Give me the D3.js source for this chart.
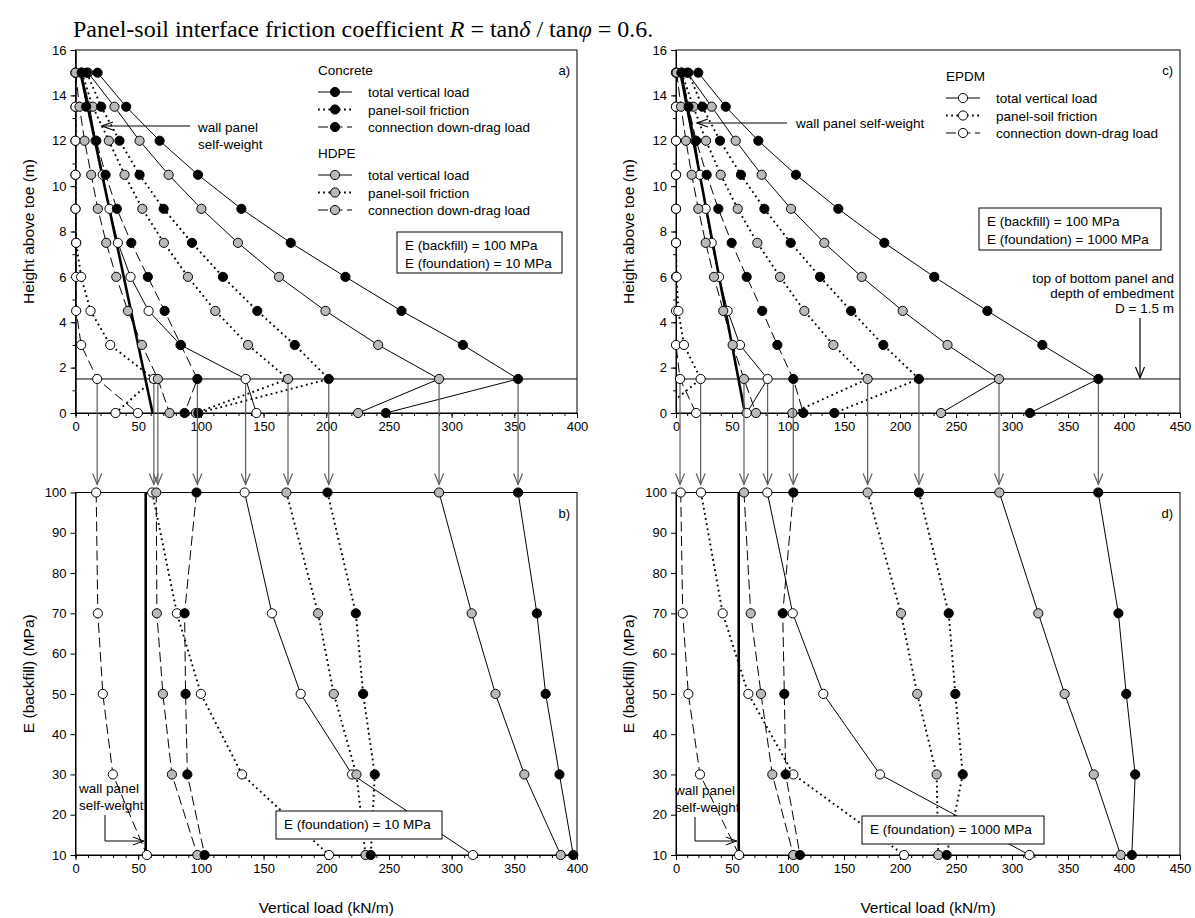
<!DOCTYPE html>
<html>
<head>
<meta charset="utf-8">
<script src="https://cdn.jsdelivr.net/npm/d3@7"></script>
<style>
  body { margin: 0; background: #fff; }
  text { font-family: Arial, "Liberation Sans", sans-serif; fill: #000; }
  text.title { font-family: "Liberation Serif", "Times New Roman", serif; }
</style>
</head>
<body>
<script>
// heights of the data rows in the top panels (m) and backfill moduli in the bottom panels (MPa)
const heights = [15, 13.5, 12, 10.5, 9, 7.5, 6, 4.5, 3, 1.5, 0];
const eBackfill = [100, 70, 50, 30, 10];

// panel a) E(backfill)=100, E(foundation)=10
const aConcTotal = [17.6, 40.4, 67.1, 97.7, 132.3, 171.7, 215.3, 260, 309, 353, 247.5];
const aConcFric  = [9, 20.5, 35.1, 51.1, 70.3, 92.9, 117.6, 145, 174.9, 202, 98];
const aConcConn  = [5, 8.5, 16.6, 24, 33, 44.5, 57.7, 71.1, 84, 97.2, 87];
const aHdpeTotal = [10, 31.1, 51.1, 74.3, 100.4, 129.6, 162.3, 199.4, 241.4, 290, 225.4];
const aHdpeFric  = [5, 13.8, 26.6, 39.1, 53.3, 70.5, 89.7, 111.5, 137.6, 169.5, 96];
const aHdpeConn  = [0, 3.2, 7.2, 12.5, 17.8, 24.5, 32.5, 41.8, 53, 65.7, 75];
const aEpdmTotal = [4.5, 11.2, 16, 21.8, 27.1, 33.8, 43.9, 58.3, 83.8, 135.7, 144.3];
const aEpdmFric  = [0, 0, 0, 0, 0, 0.5, 4.5, 12, 27.7, 62.5, 31.9];
const aEpdmConn  = [0, 0, 0, 0, 0, 0.5, 0.5, 0.5, 4.5, 17.3, 49.7];

// panel b) E(foundation)=10, values at the top of the bottom panel
const bConcTotal = [353, 368, 375, 386, 397];
const bConcFric  = [201, 223.6, 229.4, 238.7, 235.5];
const bConcConn  = [96.5, 87, 87.8, 89.2, 103];
const bHdpeTotal = [290, 316, 335, 358, 387];
const bHdpeFric  = [168.2, 193.5, 206, 224.1, 231.3];
const bHdpeConn  = [64.4, 64.9, 69.7, 76.9, 97.2];
const bEpdmTotal = [134.9, 156.7, 179.6, 220.6, 317];
const bEpdmFric  = [61.2, 80.9, 100, 132.8, 202.2];
const bEpdmConn  = [16.5, 17.8, 21.8, 29.8, 56.9];

// panel c) E(backfill)=100, E(foundation)=1000
const cConcTotal = [19.9, 44.4, 73.5, 107.1, 144.9, 186, 230.6, 278, 327.1, 377.1, 316];
const cConcFric  = [11, 23.5, 39.3, 58, 78.9, 102.4, 128.6, 156.3, 185.1, 216.9, 141.4];
const cConcConn  = [5, 11.2, 18, 27.4, 37.8, 49.7, 63.1, 77, 90.5, 104.7, 113.7];
const cHdpeTotal = [10, 31.9, 53.3, 76.5, 102.7, 132.4, 165.8, 202.4, 242.4, 288.4, 236.6];
const cHdpeFric  = [5, 15.5, 26.8, 39.9, 55.1, 72.6, 92.9, 114.6, 140.5, 171.1, 103.9];
const cHdpeConn  = [0.6, 4.5, 8.9, 14, 19.9, 26.5, 33.9, 42.2, 50.6, 60.7, 71.4];
const cEpdmTotal = [5.1, 11, 17, 21.4, 26.5, 31.9, 38.4, 46.1, 57.1, 81.8, 63.1];
const cEpdmFric  = [0, 0, 0, 0, 0, 0, 0.5, 2.1, 7.1, 22, -15];
const cEpdmConn  = [0, 0, 0, 0, 0, 0, 0, 0, 0, 3.6, 17.9];

// panel d) E(foundation)=1000
const dConcTotal = [377, 395, 402, 410, 407];
const dConcFric  = [216.9, 243.5, 249.4, 256, 241.7];
const dConcConn  = [104.8, 95.3, 96.7, 97.9, 110.7];
const dHdpeTotal = [288.7, 323.5, 347, 373, 397];
const dHdpeFric  = [171.1, 200.9, 215.4, 232.7, 234.2];
const dHdpeConn  = [60.7, 66.7, 75.9, 86, 104.8];
const dEpdmTotal = [81.5, 104.2, 131.5, 182.1, 315.5];
const dEpdmFric  = [22.3, 41.7, 64.6, 104.8, 203.6];
const dEpdmConn  = [4.2, 6, 11, 21.4, 56.3];

// wall panel self-weight
const selfWeightHeights = [15, 0];
const selfWeightLoad = [4, 61.5];
const selfWeightBottom = 56;

const embedDepth = 1.5;

const svg = d3.select("body").append("svg").attr("width", 1195).attr("height", 918);

const matFill = { conc: "#000", hdpe: "#b9b9b9", epdm: "#fff" };
const typeDash = { total: null, fric: "1.8,3.4", conn: "10,4.5" };
const typeWidth = { total: 1, fric: 1.9, conn: 1 };

function series(conc, hdpe, epdm) {
  // draw order: white, gray, black
  return [
    { m: "epdm", t: "conn", v: epdm[2] }, { m: "epdm", t: "fric", v: epdm[1] }, { m: "epdm", t: "total", v: epdm[0] },
    { m: "hdpe", t: "conn", v: hdpe[2] }, { m: "hdpe", t: "fric", v: hdpe[1] }, { m: "hdpe", t: "total", v: hdpe[0] },
    { m: "conc", t: "conn", v: conc[2] }, { m: "conc", t: "fric", v: conc[1] }, { m: "conc", t: "total", v: conc[0] }
  ];
}

let clipCount = 0;
function drawPanel(o) {
  const x = d3.scaleLinear().domain([0, o.xMax]).range([o.left, o.right]);
  const y = d3.scaleLinear().domain(o.yDomain).range([o.bottom, o.top]);
  const g = svg.append("g");

  // axes
  g.append("g").attr("transform", `translate(0,${o.bottom})`)
    .call(d3.axisBottom(x).tickValues(d3.range(0, o.xMax + 0.1, 10)).tickSize(3).tickFormat(""));
  g.append("g").attr("transform", `translate(0,${o.bottom})`)
    .call(d3.axisBottom(x).tickValues(d3.range(0, o.xMax + 0.1, 50)).tickSize(5).tickSizeOuter(0).tickPadding(4))
    .call(a => a.selectAll("text").attr("font-size", 13));
  if (o.yMinor) {
    g.append("g").attr("transform", `translate(${o.left},0)`)
      .call(d3.axisLeft(y).tickValues(o.yMinor).tickSize(3).tickFormat(""));
  }
  g.append("g").attr("transform", `translate(${o.left},0)`)
    .call(d3.axisLeft(y).tickValues(o.yTicks).tickSize(5).tickSizeOuter(0).tickPadding(4))
    .call(a => a.selectAll("text").attr("font-size", 13));
  g.selectAll(".domain").attr("stroke", "#000");
  g.selectAll(".tick line").attr("stroke", "#000");

  g.append("rect").attr("x", o.left).attr("y", o.top)
    .attr("width", o.right - o.left).attr("height", o.bottom - o.top)
    .attr("fill", "none").attr("stroke", "#000").attr("stroke-width", 1);

  // clip for lines (exact plot) and markers (a bit larger)
  const id = "clip" + (clipCount++);
  const defs = svg.append("defs");
  defs.append("clipPath").attr("id", id).append("rect")
    .attr("x", o.left).attr("y", o.top).attr("width", o.right - o.left).attr("height", o.bottom - o.top);
  defs.append("clipPath").attr("id", id + "m").append("rect")
    .attr("x", o.left - 7).attr("y", o.top - 7).attr("width", o.right - o.left + 14).attr("height", o.bottom - o.top + 14);

  const lines = g.append("g").attr("clip-path", `url(#${id})`);
  const marks = g.append("g").attr("clip-path", `url(#${id}m)`);

  if (o.extra) o.extra(lines, x, y);

  const line = d3.line().x(d => x(d[0])).y(d => y(d[1]));
  o.series.forEach(s => {
    lines.append("path")
      .attr("d", line(s.v.map((v, i) => [v, o.levels[i]])))
      .attr("fill", "none").attr("stroke", "#000")
      .attr("stroke-width", typeWidth[s.t])
      .attr("stroke-dasharray", typeDash[s.t]);
  });
  o.series.forEach(s => {
    marks.selectAll(null).data(s.v).join("circle")
      .attr("cx", d => x(d)).attr("cy", (d, i) => y(o.levels[i]))
      .attr("r", 4.6).attr("fill", matFill[s.m])
      .attr("stroke", "#000").attr("stroke-width", 1);
  });

  // axis title
  const cy = (o.top + o.bottom) / 2;
  g.append("text").attr("transform", `translate(${o.left - 42},${cy}) rotate(-90)`)
    .attr("text-anchor", "middle").attr("font-size", 15.5).text(o.yTitle);
  if (o.xTitle) {
    g.append("text").attr("x", (o.left + o.right) / 2).attr("y", 913)
      .attr("text-anchor", "middle").attr("font-size", 15.5).text(o.xTitle);
  }
  g.append("text").attr("x", o.right - 7).attr("y", o.top + 25)
    .attr("text-anchor", "end").attr("font-size", 13).text(o.tag);
  return { x, y, g };
}

function arrowDown(x0, y1, y2, color) {
  svg.append("line").attr("x1", x0).attr("x2", x0).attr("y1", y1).attr("y2", y2)
    .attr("stroke", color).attr("stroke-width", 1.2);
  svg.append("path").attr("d", `M${x0 - 4.5},${y2 - 11}L${x0},${y2}L${x0 + 4.5},${y2 - 11}`)
    .attr("fill", "none").attr("stroke", color).attr("stroke-width", 1.2);
}
function arrowLeft(x1, x2, y0, color) {
  svg.append("line").attr("x1", x1).attr("x2", x2).attr("y1", y0).attr("y2", y0)
    .attr("stroke", color).attr("stroke-width", 1.2);
  svg.append("path").attr("d", `M${x2 + 11},${y0 - 4}L${x2},${y0}L${x2 + 11},${y0 + 4}`)
    .attr("fill", "none").attr("stroke", color).attr("stroke-width", 1.2);
}

function label(x, y, str, anchor) {
  return svg.append("text").attr("x", x).attr("y", y).attr("font-size", 13.5)
    .attr("text-anchor", anchor || "start").text(str);
}

function box(x, y, w, h, lines) {
  svg.append("rect").attr("x", x).attr("y", y).attr("width", w).attr("height", h)
    .attr("fill", "#fff").attr("stroke", "#000").attr("stroke-width", 1);
  lines.forEach((s, i) => label(x + 8, y + 18 + i * 18, s));
}

function selfWeightTop(l, x, y) {
  l.append("path")
    .attr("d", d3.line()(selfWeightHeights.map((h, i) => [x(selfWeightLoad[i]), y(h)])))
    .attr("stroke", "#000").attr("stroke-width", 2.6).attr("fill", "none");
  l.append("line").attr("x1", x.range()[0]).attr("x2", x.range()[1])
    .attr("y1", y(embedDepth)).attr("y2", y(embedDepth))
    .attr("stroke", "#000").attr("stroke-width", 1);
}
function selfWeightBot(l, x, y) {
  l.append("line").attr("x1", x(selfWeightBottom)).attr("x2", x(selfWeightBottom))
    .attr("y1", y(100)).attr("y2", y(10))
    .attr("stroke", "#000").attr("stroke-width", 2.6);
}

// title
svg.append("text").attr("class", "title").attr("x", 73).attr("y", 37).attr("font-size", 24)
  .call(t => {
    t.append("tspan").text("Panel-soil interface friction coefficient ");
    t.append("tspan").attr("font-style", "italic").text("R");
    t.append("tspan").text(" = tan");
    t.append("tspan").attr("font-style", "italic").text("δ");
    t.append("tspan").text(" / tan");
    t.append("tspan").attr("font-style", "italic").text("φ");
    t.append("tspan").text(" = 0.6.");
  });

const topTicks = d3.range(0, 17, 2);
const topMinor = d3.range(0, 17, 1);
const botTicks = d3.range(10, 101, 10);

const pA = drawPanel({
  left: 75.5, right: 577, top: 50, bottom: 413, xMax: 400, yDomain: [0, 16],
  yTicks: topTicks, yMinor: topMinor, levels: heights, tag: "a)",
  yTitle: "Height above toe (m)",
  series: series([aConcTotal, aConcFric, aConcConn], [aHdpeTotal, aHdpeFric, aHdpeConn], [aEpdmTotal, aEpdmFric, aEpdmConn]),
  extra: selfWeightTop
});
const pB = drawPanel({
  left: 75.5, right: 577, top: 492.5, bottom: 855, xMax: 400, yDomain: [10, 100],
  yTicks: botTicks, levels: eBackfill, tag: "b)",
  yTitle: "E (backfill) (MPa)", xTitle: "Vertical load (kN/m)",
  series: series([bConcTotal, bConcFric, bConcConn], [bHdpeTotal, bHdpeFric, bHdpeConn], [bEpdmTotal, bEpdmFric, bEpdmConn]),
  extra: selfWeightBot
});
const pC = drawPanel({
  left: 676, right: 1180, top: 50, bottom: 413, xMax: 450, yDomain: [0, 16],
  yTicks: topTicks, yMinor: topMinor, levels: heights, tag: "c)",
  yTitle: "Height above toe (m)",
  series: series([cConcTotal, cConcFric, cConcConn], [cHdpeTotal, cHdpeFric, cHdpeConn], [cEpdmTotal, cEpdmFric, cEpdmConn]),
  extra: selfWeightTop
});
const pD = drawPanel({
  left: 676, right: 1180, top: 492.5, bottom: 855, xMax: 450, yDomain: [10, 100],
  yTicks: botTicks, levels: eBackfill, tag: "d)",
  yTitle: "E (backfill) (MPa)", xTitle: "Vertical load (kN/m)",
  series: series([dConcTotal, dConcFric, dConcConn], [dHdpeTotal, dHdpeFric, dHdpeConn], [dEpdmTotal, dEpdmFric, dEpdmConn]),
  extra: selfWeightBot
});

// arrows carrying the values at the top of the bottom panel down to E(backfill) = 100
const idx = heights.indexOf(embedDepth);
const topSeriesA = [aConcTotal, aConcFric, aConcConn, aHdpeTotal, aHdpeFric, aHdpeConn, aEpdmTotal, aEpdmFric, aEpdmConn];
const topSeriesC = [cConcTotal, cConcFric, cConcConn, cHdpeTotal, cHdpeFric, cHdpeConn, cEpdmTotal, cEpdmFric, cEpdmConn];
[[topSeriesA, pA, pB], [topSeriesC, pC, pD]].forEach(([arr, top, bot]) => {
  arr.forEach(v => {
    arrowDown(top.x(v[idx]), top.y(embedDepth) + 5, bot.y(100) - 8, "#5c5c5c");
  });
});

// legends
function legend(x0, yTitle, name, mat) {
  label(x0, yTitle, name);
  ["total", "fric", "conn"].forEach((t, i) => {
    const yy = yTitle + 17 + i * 17.5;
    svg.append("line").attr("x1", x0).attr("x2", x0 + 34).attr("y1", yy).attr("y2", yy)
      .attr("stroke", "#000").attr("stroke-width", typeWidth[t]).attr("stroke-dasharray", typeDash[t]);
    svg.append("circle").attr("cx", x0 + 17).attr("cy", yy).attr("r", 4.6)
      .attr("fill", matFill[mat]).attr("stroke", "#000");
    label(x0 + 50, yy + 5, ["total vertical load", "panel-soil friction", "connection down-drag load"][i]);
  });
}
legend(318, 75, "Concrete", "conc");
legend(318, 158, "HDPE", "hdpe");
legend(946, 81, "EPDM", "epdm");

// boxes
box(397, 232, 165, 41, ["E (backfill) = 100 MPa", "E (foundation) = 10 MPa"]);
box(979, 208, 182, 42, ["E (backfill) = 100 MPa", "E (foundation) = 1000 MPa"]);
box(276, 811, 166, 28, ["E (foundation) = 10 MPa"]);
box(862, 816, 182, 28, ["E (foundation) = 1000 MPa"]);

// self-weight annotations
arrowLeft(190, 102, 126, "#000");
label(198, 132, "wall panel");
label(198, 149, "self-weight");
arrowLeft(787, 697, 123, "#000");
label(796, 128, "wall panel self-weight");

function elbow(x1, y1, y2, x2) {
  svg.append("path").attr("d", `M${x1},${y1}V${y2}H${x2}`).attr("fill", "none")
    .attr("stroke", "#000").attr("stroke-width", 1);
  svg.append("path").attr("d", `M${x2 - 11},${y2 - 4}L${x2},${y2}L${x2 - 11},${y2 + 4}`)
    .attr("fill", "none").attr("stroke", "#000").attr("stroke-width", 1);
}
label(79, 793, "wall panel");
label(79, 810, "self-weight");
elbow(105, 815, 841, pB.x(selfWeightBottom) - 2);
label(675, 795, "wall panel");
label(675, 812, "self-weight");
elbow(695, 817, 841, pD.x(selfWeightBottom) - 2);

// embedment annotation
label(1174, 283, "top of bottom panel and", "end");
label(1174, 298, "depth of embedment", "end");
label(1174, 313, "D = 1.5 m", "end");
arrowDown(1140, 318, pC.y(embedDepth) - 1, "#000");
</script>
</body>
</html>
